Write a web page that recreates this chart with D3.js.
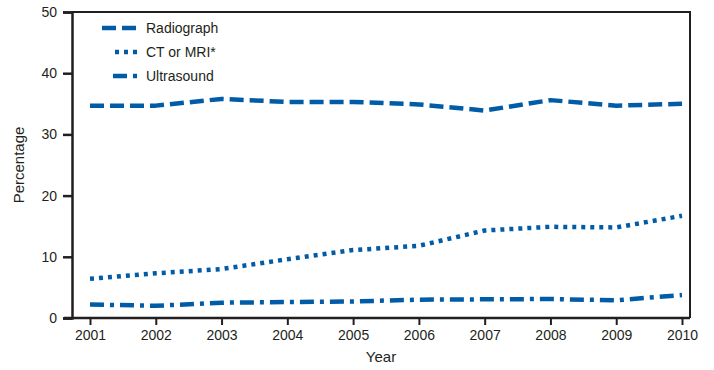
<!DOCTYPE html>
<html>
<head>
<meta charset="utf-8">
<script src="https://cdn.jsdelivr.net/npm/d3@7"></script>
<style>
  body { margin: 0; background: #fff; }
  text { font-family: "Liberation Sans Narrow", "Liberation Sans", Arial, sans-serif; fill: #231f20; }
</style>
</head>
<body>
<div id="chart"></div>
<script>
// Data
const years = [2001, 2002, 2003, 2004, 2005, 2006, 2007, 2008, 2009, 2010];
const radiograph = [34.7, 34.7, 35.8, 35.3, 35.3, 34.9, 33.9, 35.6, 34.7, 35.0];
const ctMri = [6.4, 7.3, 8.0, 9.6, 11.1, 11.8, 14.3, 14.9, 14.8, 16.7];
const ultrasound = [2.2, 2.0, 2.5, 2.6, 2.7, 3.0, 3.05, 3.1, 2.9, 3.75];
const yTicks = [0, 10, 20, 30, 40, 50];

const seriesNames = ["Radiograph", "CT or MRI*", "Ultrasound"];
const seriesValues = [radiograph, ctMri, ultrasound];
const dashes = ["14,6", "4,5", "14,6,4,6"];

const width = 714, height = 370;
const blue = "#005ca6";

const svg = d3.select("#chart").append("svg")
    .attr("width", width)
    .attr("height", height);

// scales
const x = d3.scaleLinear().domain([2001, 2010]).range([90, 682]);
const y = d3.scaleLinear().domain([0, 50]).range([318, 12]);

// frame (top and right)
svg.append("path")
    .attr("d", `M72,12 H690 V318`)
    .attr("fill", "none")
    .attr("stroke", "#231f20")
    .attr("stroke-width", 2);

// y axis
const yAxis = svg.append("g")
    .attr("transform", "translate(72,0)")
    .call(d3.axisLeft(y).tickValues(yTicks).tickSize(9).tickPadding(6));
yAxis.select(".domain").attr("stroke", "#231f20").attr("stroke-width", 2.5);
yAxis.selectAll(".tick line").attr("stroke", "#231f20").attr("stroke-width", 2.5);
yAxis.selectAll("text").style("font-size", "14px").attr("fill", "#231f20");

// x axis
const xAxis = svg.append("g")
    .attr("transform", "translate(0,318)")
    .call(d3.axisBottom(x).tickValues(years).tickFormat(d3.format("d")).tickSize(7).tickPadding(5));
xAxis.select(".domain").attr("d", "M64,0H690").attr("stroke", "#231f20").attr("stroke-width", 2.5);
xAxis.selectAll(".tick line").attr("stroke", "#231f20").attr("stroke-width", 2);
xAxis.selectAll("text").style("font-size", "14px").attr("fill", "#231f20");

// axis titles
svg.append("text")
    .attr("x", 381).attr("y", 362)
    .attr("text-anchor", "middle")
    .style("font-size", "15px")
    .text("Year");

svg.append("text")
    .attr("transform", "translate(24,165) rotate(-90)")
    .attr("text-anchor", "middle")
    .style("font-size", "15px")
    .text("Percentage");

// lines
const line = d3.line()
    .x((d, i) => x(years[i]))
    .y(d => y(d));

svg.selectAll("path.series")
    .data(seriesValues)
    .join("path")
    .attr("class", "series")
    .attr("d", line)
    .attr("fill", "none")
    .attr("stroke", blue)
    .attr("stroke-width", 4.5)
    .attr("stroke-linejoin", "round")
    .attr("stroke-dasharray", (d, i) => dashes[i]);

// legend
const legendStart = [102, 115, 113];
const legend = svg.selectAll("g.legend")
    .data(seriesNames)
    .join("g")
    .attr("class", "legend")
    .attr("transform", (d, i) => `translate(0,${28 + i * 24})`);

legend.append("line")
    .attr("x1", (d, i) => legendStart[i])
    .attr("x2", 138)
    .attr("stroke", blue)
    .attr("stroke-width", 4.5)
    .attr("stroke-dasharray", (d, i) => dashes[i]);

legend.append("text")
    .attr("x", 146)
    .attr("dy", "0.35em")
    .style("font-size", "14px")
    .text(d => d);
</script>
</body>
</html>
